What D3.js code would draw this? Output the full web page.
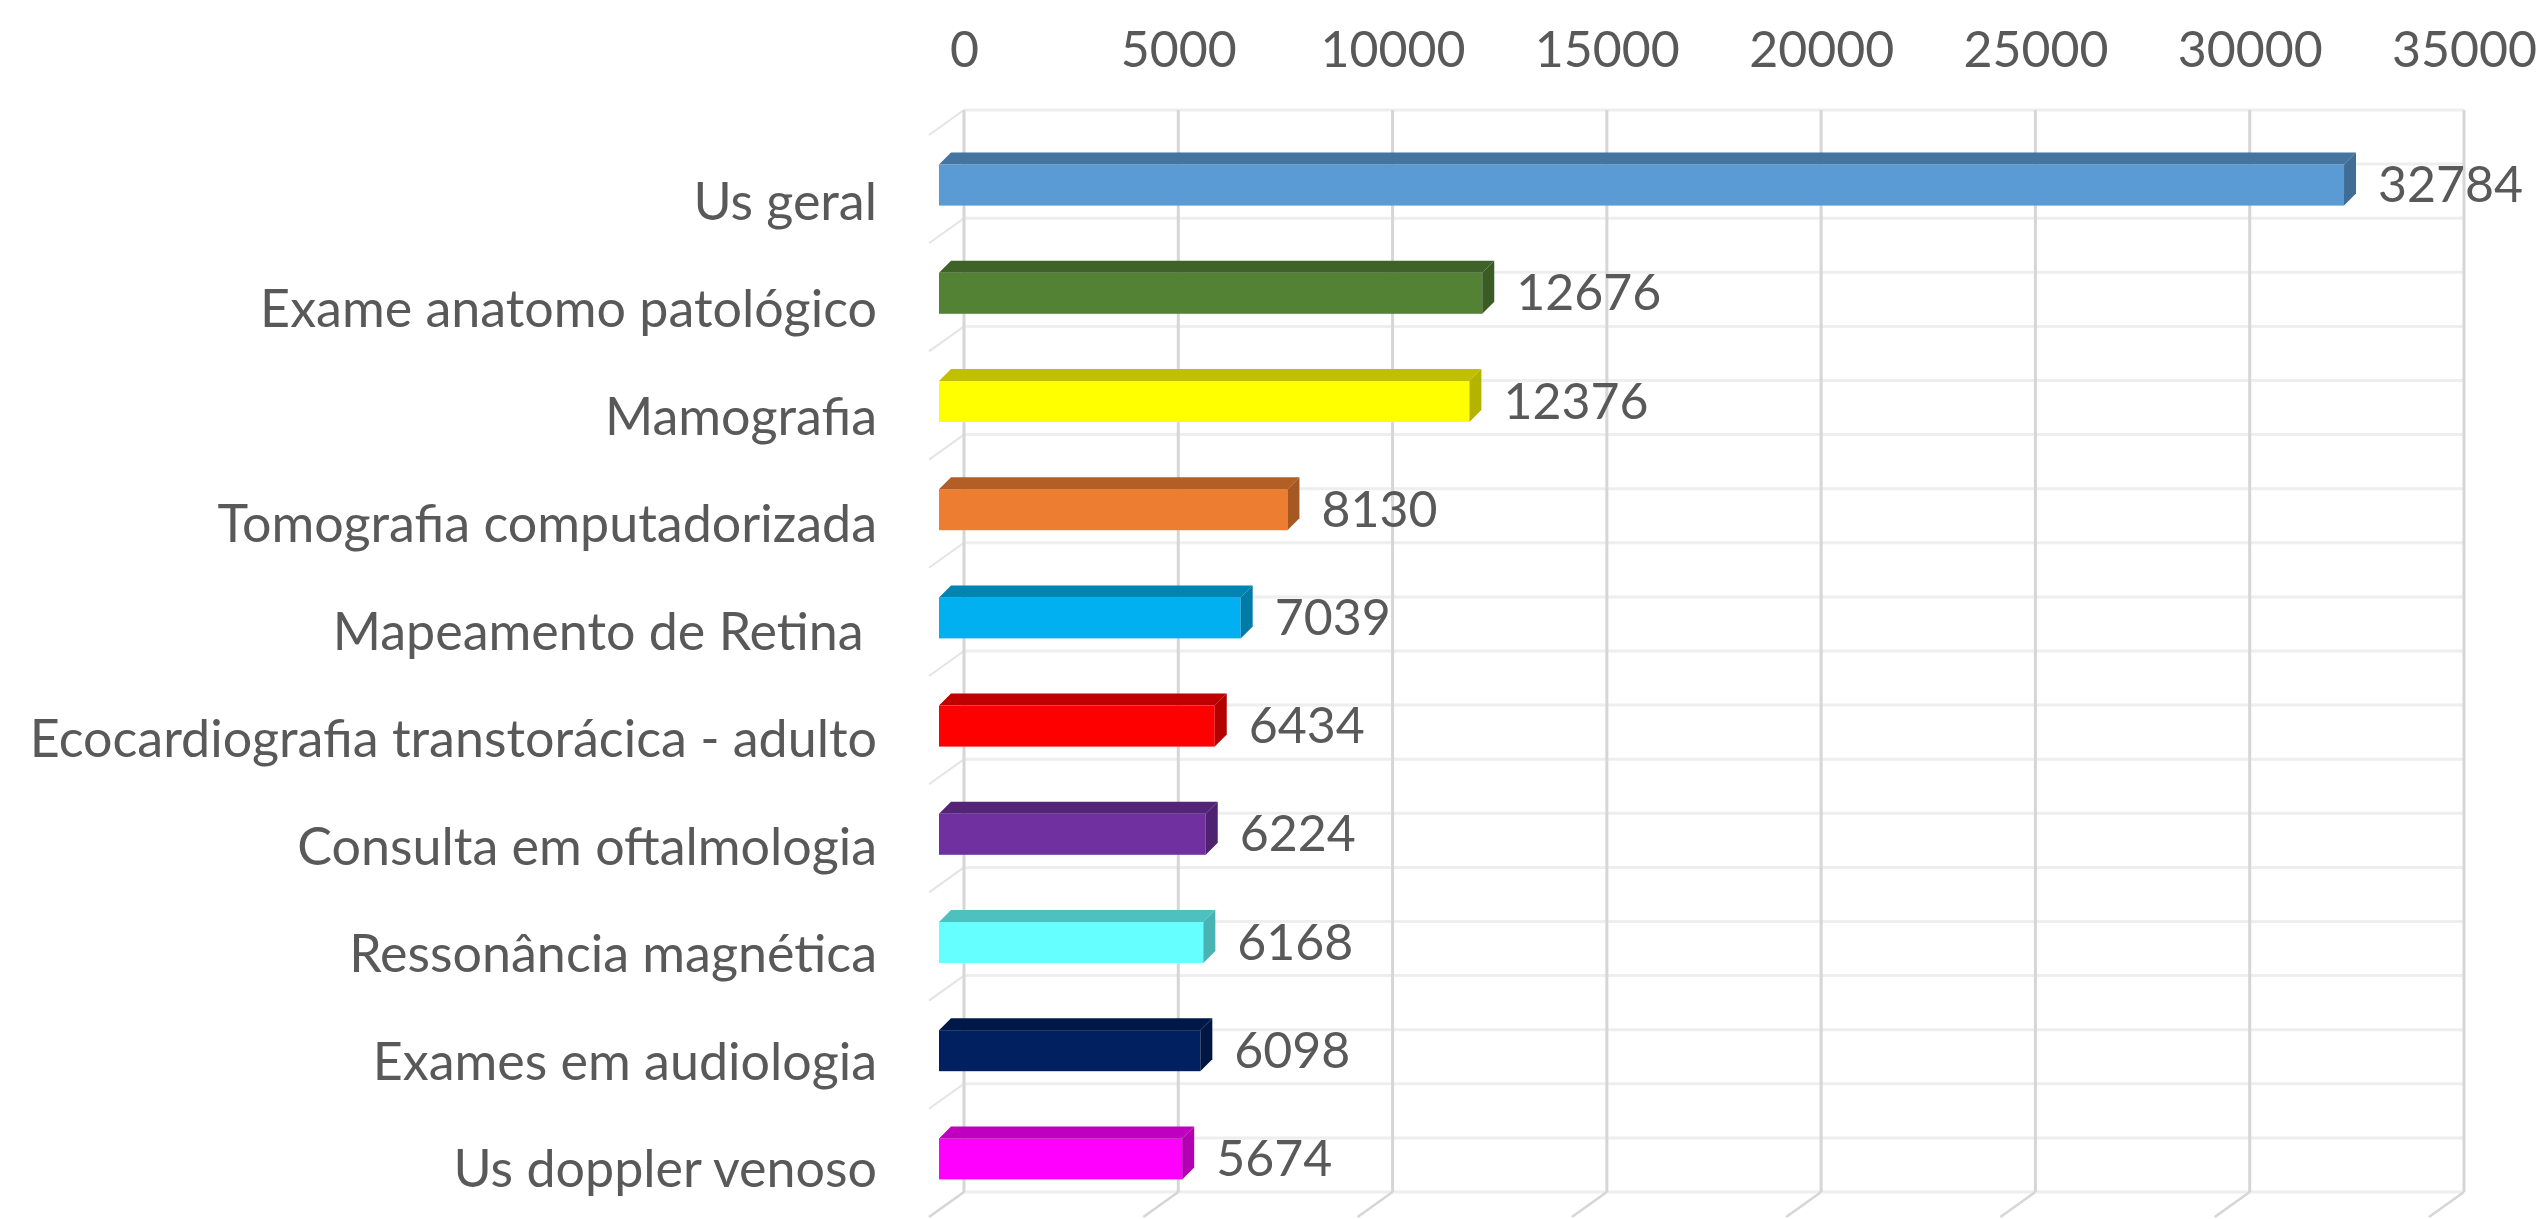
<!DOCTYPE html>
<html>
<head>
<meta charset="utf-8">
<script src="https://cdn.jsdelivr.net/npm/d3@7"></script>
<style>
  body { margin: 0; background: #fff; }
  text { font-family: Lato, "Open Sans", sans-serif; fill: #595959; }
</style>
</head>
<body>
<div class="chart"></div>
<script>
const categories = [
  'Us geral',
  'Exame anatomo patológico',
  'Mamografia',
  'Tomografia computadorizada',
  'Mapeamento de Retina ',
  'Ecocardiografia transtorácica - adulto',
  'Consulta em oftalmologia',
  'Ressonância magnética',
  'Exames em audiologia',
  'Us doppler venoso'
];
const values = [32784, 12676, 12376, 8130, 7039, 6434, 6224, 6168, 6098, 5674];
const barColors = ['#5B9BD5', '#548235', '#FFFF00', '#ED7D31', '#00B0F0',
                   '#FF0000', '#7030A0', '#66FFFF', '#002060', '#FF00FF'];
const tickValues = [0, 5000, 10000, 15000, 20000, 25000, 30000, 35000];

var width = 2543;
var height = 1219;
// back wall of the 3d plot area
var wall = {left: 964, right: 2464, top: 110, bottom: 1192};
// how far the floor / left wall comes forward
var wallDepth = {dx: -35, dy: 25};
// bars: front face offset from the back wall, and their own depth
var barFront = {dx: -25, dy: 21};
var barDepth = {dx: 12, dy: -12};
var barHeight = 41;
var fontSize = 50;
var labelSize = 52;

const data = categories.map((c, i) => ({name: c, value: values[i], color: barColors[i]}));

var xScale = d3.scaleLinear()
  .domain([0, 35000])
  .range([wall.left, wall.right]);

var yScale = d3.scaleBand()
  .domain(categories)
  .range([wall.top, wall.bottom]);

// category labels sit on the front plane, which is a bit tighter
var labelScale = yScale.copy()
  .range([wall.top + 37, wall.bottom + 30]);

var svg = d3.select('.chart').append('svg')
  .attr('width', width)
  .attr('height', height);

function barCenter(d) {
  return yScale(d.name) + yScale.bandwidth() / 2 + barFront.dy;
}

function drawWalls(el) {
  var g = el.append('g').attr('class', 'walls');
  var bw = yScale.bandwidth();

  // light horizontal lines on the back wall (every half band)
  var hLines = [];
  categories.forEach(c => { hLines.push(yScale(c)); hLines.push(yScale(c) + bw / 2); });
  hLines.push(wall.bottom);
  g.selectAll('.hline').data(hLines).enter().append('line')
    .attr('x1', wall.left).attr('x2', wall.right)
    .attr('y1', d => d).attr('y2', d => d)
    .attr('stroke', '#eeeeee').attr('stroke-width', 3);

  // left wall diagonals at category boundaries
  var bounds = categories.map(c => yScale(c)).concat([wall.bottom]);
  g.selectAll('.lwall').data(bounds).enter().append('line')
    .attr('x1', wall.left).attr('y1', d => d)
    .attr('x2', wall.left + wallDepth.dx).attr('y2', d => d + wallDepth.dy)
    .attr('stroke', '#e4e4e4').attr('stroke-width', 2);

  // vertical gridlines + floor diagonals
  g.selectAll('.vline').data(tickValues).enter().append('line')
    .attr('x1', d => xScale(d)).attr('x2', d => xScale(d))
    .attr('y1', wall.top).attr('y2', wall.bottom)
    .attr('stroke', '#d6d6d6').attr('stroke-width', 3);
  g.selectAll('.floor').data(tickValues).enter().append('line')
    .attr('x1', d => xScale(d)).attr('y1', wall.bottom)
    .attr('x2', d => xScale(d) + wallDepth.dx).attr('y2', wall.bottom + wallDepth.dy)
    .attr('stroke', '#d6d6d6').attr('stroke-width', 2.5);
}

function drawXAxis(el) {
  var axis = el.append('g')
    .attr('class', 'axis axis--x')
    .attr('transform', 'translate(0,67)')
    .call(d3.axisTop(xScale).tickValues(tickValues).tickSize(0).tickPadding(0).tickFormat(d3.format('d')));
  axis.select('.domain').remove();
  axis.selectAll('text')
    .attr('dy', null)
    .style('font-size', fontSize + 'px')
    .style('font-family', 'Lato, sans-serif')
    .attr('fill', '#595959');
}

function drawBars(el) {
  var g = el.append('g').attr('class', 'bars');
  var bars = g.selectAll('.bar').data(data).enter().append('g').attr('class', 'bar');

  function pts(d) {
    var x0 = xScale(0) + barFront.dx;
    var x1 = xScale(d.value) + barFront.dx;
    var yt = barCenter(d) - barHeight / 2;
    var yb = barCenter(d) + barHeight / 2;
    return {x0, x1, yt, yb};
  }

  bars.append('rect')
    .attr('x', d => pts(d).x0)
    .attr('y', d => pts(d).yt)
    .attr('width', d => pts(d).x1 - pts(d).x0)
    .attr('height', barHeight)
    .attr('fill', d => d.color);

  // top face
  bars.append('polygon')
    .attr('points', d => {
      var p = pts(d);
      return [[p.x0, p.yt], [p.x0 + barDepth.dx, p.yt + barDepth.dy],
              [p.x1 + barDepth.dx, p.yt + barDepth.dy], [p.x1, p.yt]].join(' ');
    })
    .attr('fill', d => d3.color(d.color).darker(0.8));

  // right face
  bars.append('polygon')
    .attr('points', d => {
      var p = pts(d);
      return [[p.x1, p.yt], [p.x1 + barDepth.dx, p.yt + barDepth.dy],
              [p.x1 + barDepth.dx, p.yb + barDepth.dy], [p.x1, p.yb]].join(' ');
    })
    .attr('fill', d => d3.color(d.color).darker(1.0));

  // value labels
  bars.append('text')
    .attr('x', d => xScale(d.value) + barFront.dx + barDepth.dx + 22)
    .attr('y', d => barCenter(d) + 17)
    .style('font-size', fontSize + 'px')
    .text(d => d.value);
}

function drawYLabels(el) {
  el.append('g').attr('class', 'axis axis--y')
    .selectAll('text').data(data).enter().append('text')
    .attr('x', 877)
    .attr('y', d => labelScale(d.name) + labelScale.bandwidth() / 2 + 19)
    .attr('text-anchor', 'end')
    .style('font-size', labelSize + 'px')
    .style('white-space', 'pre')
    .text(d => d.name);
}

drawWalls(svg);
drawXAxis(svg);
drawBars(svg);
drawYLabels(svg);
</script>
</body>
</html>
